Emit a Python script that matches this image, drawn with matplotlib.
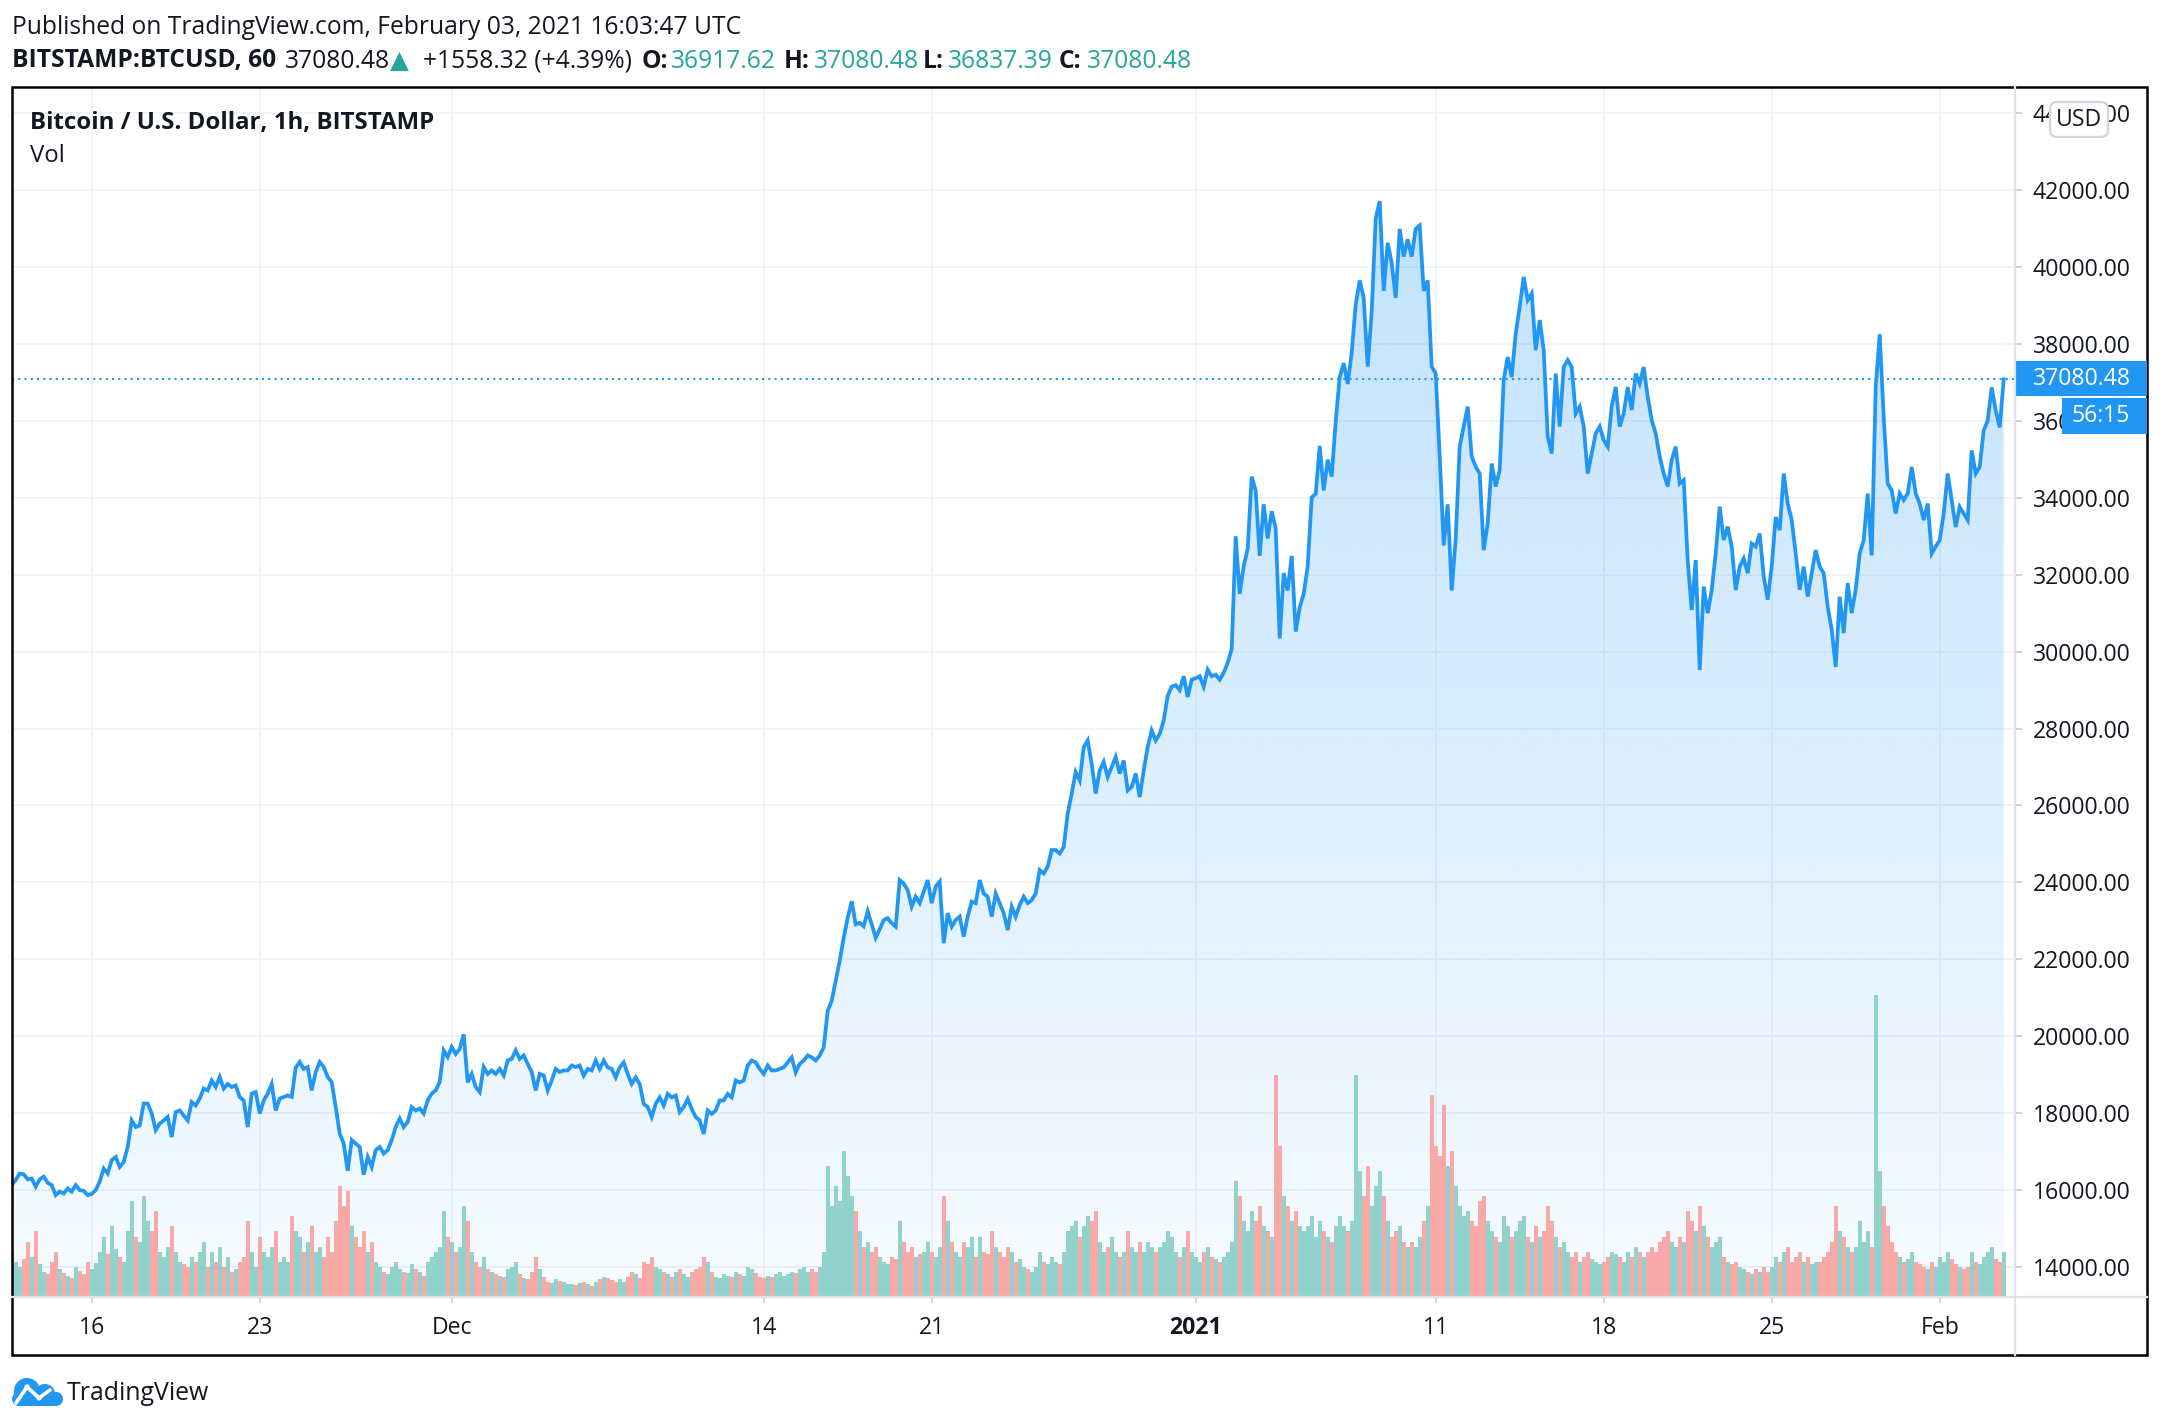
#! /usr/bin/env python

import numpy as np
import pandas as pd
import matplotlib
matplotlib.use('Agg')
from matplotlib import pyplot as plt
from matplotlib import dates as mdates
from matplotlib.colors import to_rgb
from matplotlib.patches import Rectangle, FancyBboxPatch, Circle, Polygon

# BITSTAMP:BTCUSD, 4-hourly closes (00,04,08,12,16,20 UTC)
price_nov = [
  16130, 16260,                                # Nov 12 16h, 20h
  16430, 16410, 16280, 16300, 16090, 16280,    # 13
  16350, 16190, 16130, 15870, 15960, 15910,    # 14
  16040, 15960, 16130, 16000, 15980, 15870,    # 15
  15900, 16000, 16220, 16560, 16430, 16780,    # 16
  16860, 16600, 16730, 17120, 17810, 17640,    # 17
  17680, 18250, 18250, 17990, 17560, 17730,    # 18
  17810, 17900, 17380, 18030, 18070, 17940,    # 19
  17810, 18290, 18200, 18380, 18640, 18590,    # 20
  18850, 18680, 18940, 18640, 18760, 18680,    # 21
  18720, 18420, 18330, 17640, 18510, 18550,    # 22
  17990, 18330, 18510, 18760, 18070, 18380,    # 23
  18420, 18460, 18420, 19180, 19330, 19150,    # 24
  19200, 18590, 19070, 19330, 19200, 18940,    # 25
  18810, 18160, 17470, 17210, 16500, 17300,    # 26
  17210, 17120, 16400, 16860, 16600, 17040,    # 27
  17120, 16950, 17040, 17300, 17640, 17860,    # 28
  17640, 17770, 18160, 18070, 18120, 17990,    # 29
  18330, 18510, 18590, 18810, 19630, 19460,    # 30
]
price_dec = [
  19720, 19540, 19670, 20050, 18800, 19020,    # Dec 1
  18680, 18550, 19200, 19020, 19110, 19020,    # 2
  19150, 18980, 19370, 19410, 19630, 19410,    # 3
  19500, 19280, 19070, 18590, 19020, 18980,    # 4
  18590, 18850, 19150, 19070, 19110, 19110,    # 5
  19240, 19200, 19240, 18980, 19150, 19110,    # 6
  19370, 19150, 19370, 19190, 19150, 18930,    # 7
  19190, 19320, 19020, 18760, 18930, 18760,    # 8
  18240, 18160, 17900, 18240, 18410, 18200,    # 9
  18500, 18410, 18460, 18030, 18160, 18370,    # 10
  18110, 17900, 17810, 17460, 18070, 17980,    # 11
  18070, 18330, 18330, 18500, 18410, 18850,    # 12
  18800, 18850, 19240, 19370, 19320, 19150,    # 13
  19020, 19240, 19110, 19110, 19150, 19190,    # 14
  19320, 19450, 19060, 19280, 19370, 19500,    # 15
  19450, 19370, 19500, 19710, 20660, 20920,    # 16
  21440, 21960, 22560, 23080, 23510, 22910,    # 17
  22950, 22860, 23250, 22910, 22560, 22780,    # 18
  23020, 23070, 22940, 22850, 24060, 23970,    # 19
  23800, 23370, 23630, 23460, 23760, 24060,    # 20
  23460, 23890, 24020, 22420, 23200, 22850,    # 21
  23020, 23110, 22590, 23110, 23500, 23460,    # 22
  24060, 23710, 23630, 23110, 23710, 23460,    # 23
  23200, 22760, 23370, 23110, 23410, 23630,    # 24
  23460, 23540, 23710, 24320, 24230, 24410,    # 25
  24840, 24840, 24750, 24920, 25790, 26310,    # 26
  26870, 26650, 27520, 27690, 27080, 26310,    # 27
  26910, 27130, 26740, 27000, 27260, 26830,    # 28
  27170, 26390, 26480, 26830, 26220, 26910,    # 29
  27520, 27950, 27690, 27860, 28210, 28850,    # 30
  29090, 29130, 29000, 29360, 28820, 29270,    # 31
]
price_jan = [
  29310, 29360, 29090, 29530, 29360, 29400,    # Jan 1
  29270, 29450, 29710, 30070, 33000, 31500,    # 2
  32220, 32670, 34550, 34190, 32490, 33830,    # 3
  32940, 33650, 33200, 30340, 32040, 31590,    # 4
  32490, 30520, 31150, 31500, 32220, 34010,    # 5
  34100, 35350, 34190, 34990, 34550, 35980,    # 6
  37140, 37500, 36960, 37770, 39020, 39650,    # 7
  39200, 37410, 38840, 41260, 41710, 39380,    # 8
  40630, 40100, 39200, 40990, 40270, 40720,    # 9
  40270, 40990, 41080, 39380, 39650, 37410,    # 10
  37230, 35080, 32760, 33830, 31590, 32940,    # 11
  35330, 35850, 36370, 35070, 34810, 34630,    # 12
  32640, 33330, 34890, 34290, 34720, 37060,    # 13
  37660, 37140, 38270, 38960, 39740, 39140,    # 14
  39310, 37840, 38620, 37840, 35590, 35150,    # 15
  37230, 35850, 37400, 37580, 37400, 36190,    # 16
  36370, 35850, 34630, 35150, 35670, 35850,    # 17
  35500, 35330, 36370, 36880, 35850, 36190,    # 18
  36880, 36280, 37230, 36970, 37400, 36620,    # 19
  36020, 35670, 35070, 34630, 34290, 34980,    # 20
  35330, 34370, 34460, 32380, 31080, 32380,    # 21
  29520, 31690, 31000, 31600, 32550, 33770,    # 22
  32900, 33250, 32730, 31600, 32210, 32420,    # 23
  32040, 32810, 32730, 33070, 31950, 31350,    # 24
  32210, 33500, 33160, 34630, 33850, 33420,    # 25
  32550, 31610, 32210, 31430, 32040, 32640,    # 26
  32210, 32040, 31170, 30570, 29600, 31430,    # 27
  30480, 31780, 31000, 31610, 32550, 32900,    # 28
  34110, 32500, 36870, 38250, 36090, 34370,    # 29
  34190, 33590, 34110, 33940, 34110, 34800,    # 30
  34110, 33850, 33420, 33850, 32550, 32730,    # 31
]
price_feb = [
  32900, 33590, 34630, 33940, 33240, 33760,    # Feb 1
  33590, 33420, 35230, 34630, 34800, 35750,    # 2
  36010, 36870, 36270, 35830, 37080.48,        # 3 (to 16h)
]

# volume, BTC per bar
vol_nov = [
  900, 700,
  600, 750, 1100, 800, 1300, 650,
  500, 450, 700, 900, 550, 480,
  420, 380, 600, 520, 450, 700,
  550, 680, 900, 1200, 850, 1400,
  950, 800, 700, 1300, 1900, 1200,
  1100, 2000, 1500, 1300, 1700, 900,
  800, 1000, 1400, 900, 700, 650,
  600, 800, 700, 900, 1100, 600,
  900, 700, 1000, 600, 800, 500,
  550, 700, 800, 1500, 900, 600,
  1200, 900, 800, 1000, 1300, 700,
  800, 700, 1600, 1300, 1200, 900,
  1100, 1400, 900, 1000, 800, 1200,
  900, 1500, 2200, 1800, 2100, 1400,
  1200, 1000, 1300, 900, 1100, 700,
  600, 500, 450, 600, 700, 550,
  500, 480, 650, 550, 500, 420,
  700, 800, 900, 1000, 1700, 1200,
]
vol_dec = [
  1100, 900, 1000, 1800, 1500, 900,
  700, 600, 800, 550, 500, 450,
  420, 400, 550, 600, 700, 450,
  380, 350, 500, 800, 550, 400,
  300, 280, 350, 320, 300, 260,
  250, 240, 280, 300, 260, 220,
  300, 350, 400, 380, 330, 300,
  350, 300, 400, 500, 450, 380,
  700, 650, 800, 600, 550, 500,
  450, 400, 500, 550, 450, 400,
  500, 550, 600, 800, 700, 500,
  400, 380, 450, 420, 400, 500,
  450, 420, 600, 550, 480, 400,
  380, 420, 400, 450, 500, 420,
  450, 500, 480, 550, 600, 500,
  550, 500, 600, 900, 2600, 1800,
  2200, 1900, 2900, 2400, 2000, 1700,
  1300, 1000, 1100, 900, 1000, 800,
  700, 650, 800, 750, 1500, 1100,
  900, 1000, 800, 850, 900, 1100,
  900, 800, 1000, 2000, 1500, 1100,
  900, 800, 1100, 1000, 1200, 800,
  1200, 900, 850, 1300, 1000, 900,
  800, 1000, 900, 700, 750, 600,
  550, 500, 600, 900, 700, 650,
  800, 700, 650, 900, 1300, 1400,
  1500, 1200, 1400, 1600, 1500, 1700,
  1100, 900, 1000, 1200, 900, 800,
  900, 1300, 1000, 900, 1100, 900,
  1100, 1000, 900, 1000, 1100, 1300,
  1200, 900, 800, 1000, 1300, 900,
]
vol_jan = [
  800, 700, 900, 1000, 800, 750,
  700, 800, 900, 1100, 2300, 2000,
  1500, 1300, 1700, 1500, 1800, 1400,
  1300, 1200, 4400, 3000, 2000, 1800,
  1500, 1700, 1400, 1300, 1400, 1600,
  1200, 1500, 1300, 1200, 1100, 1400,
  1600, 1400, 1300, 1500, 4400, 2500,
  2000, 2600, 1800, 2200, 2500, 2000,
  1500, 1200, 1300, 1400, 1100, 1000,
  1100, 1000, 1200, 1500, 1800, 4000,
  3000, 2800, 3800, 2600, 2900, 2200,
  1800, 1600, 1700, 1500, 1400, 1900,
  2000, 1500, 1300, 1200, 1100, 1600,
  1400, 1200, 1300, 1500, 1600, 1200,
  1100, 1400, 1200, 1300, 1800, 1500,
  1200, 1000, 1100, 900, 800, 900,
  700, 800, 900, 750, 700, 650,
  700, 800, 900, 850, 800, 700,
  900, 800, 1000, 900, 800, 900,
  1000, 900, 1100, 1200, 1300, 1100,
  1000, 1200, 1100, 1700, 1500, 1300,
  1800, 1400, 1200, 1000, 1100, 1200,
  800, 700, 650, 700, 600, 550,
  500, 450, 550, 500, 600, 500,
  600, 800, 700, 900, 1000, 700,
  800, 900, 700, 800, 650, 700,
  700, 800, 900, 1100, 1800, 1300,
  1200, 1000, 900, 1000, 1500, 1100,
  1300, 1000, 6000, 2500, 1800, 1400,
  1100, 900, 800, 700, 750, 900,
  700, 650, 600, 550, 700, 600,
]
vol_feb = [
  800, 700, 900, 750, 650, 600,
  550, 600, 900, 700, 650, 800,
  900, 1000, 750, 700, 900,
]

start, end = '2020-11-12 16:00', '2021-02-03 16:00'
tick_dates = ['2020-11-16', '2020-11-23', '2020-12-01', '2020-12-14', '2020-12-21',
              '2021-01-01', '2021-01-11', '2021-01-18', '2021-01-25', '2021-02-01']
tick_labels = ['16', '23', 'Dec', '14', '21', '2021', '11', '18', '25', 'Feb']
price_ticks = list(range(14000, 44001, 2000))

W, H, DPI = 2160, 1428, 200
BLUE = '#2196f3'
INK = '#131722'
TEAL = '#26a69a'
GRID = '#f0f3fa'
SEP = '#e0e3eb'

plt.rcParams['font.family'] = ['Open Sans', 'DejaVu Sans']


def fit(ov, s, width, weight='normal'):
  t = ov.text(0, 0, s, fontsize=10, fontweight=weight)
  w = t.get_window_extent(renderer=ov.figure.canvas.get_renderer()).width
  t.remove()
  return 10.0 * width / w


def logo(ov, x, y):
  # blue cloud with a small white chart line
  for cx, cy, r in [(x + 15, y + 15, 13), (x + 33, y + 18, 10), (x + 44, y + 23, 7), (x + 7, y + 23, 7)]:
    ov.add_patch(Circle((cx, cy), r, color=BLUE, lw=0))
  ov.add_patch(Rectangle((x + 7, y + 18), 37, 12, color=BLUE, lw=0))
  pts = [(x + 4, y + 27), (x + 15, y + 11), (x + 27, y + 22), (x + 38, y + 14)]
  ov.plot(*zip(*pts), color='white', lw=1.3, solid_capstyle='round')
  for px_, py_ in pts[1:3]:
    ov.add_patch(Circle((px_, py_), 2.6, color='white', lw=0))


def main():
  prices = np.array(price_nov + price_dec + price_jan + price_feb, dtype=float)
  volumes = np.array(vol_nov + vol_dec + vol_jan + vol_feb, dtype=float)
  times = pd.date_range(start, end, freq='4h')
  xs = mdates.date2num(times)

  t0 = mdates.date2num(pd.Timestamp('2020-11-16'))
  x0, x1 = t0 - 79.7 / 24, t0 + 1923.3 / 24
  y0, y1 = 13220, 44680

  fig = plt.figure(figsize=(W / DPI, H / DPI), dpi=DPI)
  ax = fig.add_axes([12 / W, 1 - 1297 / H, 2003 / W, 1210 / H])

  # gradient area under the line
  grad = np.zeros((256, 1, 4))
  grad[:, 0, :3] = to_rgb(BLUE)
  grad[:, 0, 3] = np.linspace(0.28, 0.04, 256)
  im = ax.imshow(grad, aspect='auto', origin='upper', interpolation='bilinear',
                 extent=[xs[0], xs[-1], y0, prices.max()], zorder=1)
  clip = Polygon(np.column_stack([np.r_[xs[0], xs, xs[-1]], np.r_[y0, prices, y0]]),
                 closed=True, facecolor='none', edgecolor='none')
  ax.add_patch(clip)
  im.set_clip_path(clip)
  ax.plot(xs, prices, color=BLUE, lw=1.35, zorder=3, solid_joinstyle='miter')
  ax.axhline(prices[-1], color=BLUE, lw=0.75, ls=(0, (1, 2)), zorder=4)

  vax = ax.twinx()
  up = np.r_[True, prices[1:] >= prices[:-1]]
  vax.bar(xs, volumes, width=4 / 24 * 0.95, color=np.where(up, '#92d2cc', '#f7a9a7'),
          linewidth=0, zorder=2)
  vax.set_ylim(0, volumes.max() * 4)
  vax.yaxis.set_visible(False)

  ax.set_xlim(x0, x1)
  ax.set_ylim(y0, y1)
  ax.yaxis.tick_right()
  ax.set_yticks(price_ticks)
  ax.set_yticklabels(['%.2f' % v for v in price_ticks])
  ax.set_xticks(mdates.date2num(pd.to_datetime(tick_dates)))
  ax.set_xticklabels(tick_labels)
  ax.get_xticklabels()[tick_labels.index('2021')].set_fontweight('bold')
  ax.tick_params(axis='y', length=2.6, width=0.7, color='#d1d4dc', pad=3.8,
                 labelsize=8.3, labelcolor=INK)
  ax.tick_params(axis='x', length=2.2, width=0.7, color='#d1d4dc', pad=4.6,
                 labelsize=8.3, labelcolor=INK)
  ax.set_axisbelow(True)
  ax.grid(True, color=GRID, lw=0.7)
  for a in (ax, vax):
    for s in a.spines.values():
      s.set_visible(False)

  # overlay in pixel coordinates for frame, header, labels
  ov = fig.add_axes([0, 0, 1, 1], zorder=5)
  ov.set_xlim(0, W)
  ov.set_ylim(H, 0)
  ov.axis('off')

  ov.plot([2015, 2015], [87, 1355], color=SEP, lw=0.8)
  ov.plot([12, 2147], [1297, 1297], color=SEP, lw=0.8)
  ov.add_patch(Rectangle((12, 87), 2135, 1268, fill=False, edgecolor='black', lw=0.9))

  hs = fit(ov, 'Published on TradingView.com, February 03, 2021 16:03:47 UTC', 728)
  ov.text(12, 27, 'Published on TradingView.com, February 03, 2021 16:03:47 UTC',
          fontsize=hs, color=INK, va='center')
  last = '%.2f' % prices[-1]
  parts = [(12, 'BITSTAMP:BTCUSD, 60', 'bold', INK), (285, last, 'normal', INK),
           (390, '\u25b2', 'normal', TEAL), (423, '+1558.32 (+4.39%)', 'normal', INK),
           (642, 'O:', 'bold', INK), (671, '36917.62', 'normal', TEAL),
           (784, 'H:', 'bold', INK), (814, last, 'normal', TEAL),
           (923, 'L:', 'bold', INK), (948, '36837.39', 'normal', TEAL),
           (1059, 'C:', 'bold', INK), (1087, last, 'normal', TEAL)]
  for x, s, wt, c in parts:
    ov.text(x, 61, s, fontsize=hs, fontweight=wt, color=c, va='center')

  ls = fit(ov, 'Bitcoin / U.S. Dollar, 1h, BITSTAMP', 403, 'bold')
  ov.text(30, 123, 'Bitcoin / U.S. Dollar, 1h, BITSTAMP', fontsize=ls,
          fontweight='bold', color=INK, va='center')
  ov.text(30, 156, 'Vol', fontsize=ls, color=INK, va='center')

  # USD badge over the top price label
  ov.add_patch(FancyBboxPatch((2050, 102), 58, 35, boxstyle='round,pad=0,rounding_size=7',
                              facecolor='white', edgecolor='#d1d4dc', lw=0.8))
  ov.text(2079, 120, 'USD', fontsize=8.3, color=INK, ha='center', va='center')

  # last price and countdown labels
  yp = 87 + (y1 - prices[-1]) / (y1 - y0) * 1210
  ov.add_patch(Rectangle((2015, yp - 18), 132, 35, color=BLUE, lw=0))
  ov.text(2033, yp, last, fontsize=8.3, color='white', va='center')
  ov.add_patch(Rectangle((2062, yp + 19), 85, 36, color=BLUE, lw=0))
  ov.text(2072, yp + 37, '56:15', fontsize=8.3, color='white', va='center')

  logo(ov, 12, 1376)
  ts = fit(ov, 'TradingView', 142)
  ov.text(67, 1394, 'TradingView', fontsize=ts, color=INK, va='center')

  fig.savefig('out.png', dpi=DPI, facecolor='white')


if __name__ == '__main__':
  main()
